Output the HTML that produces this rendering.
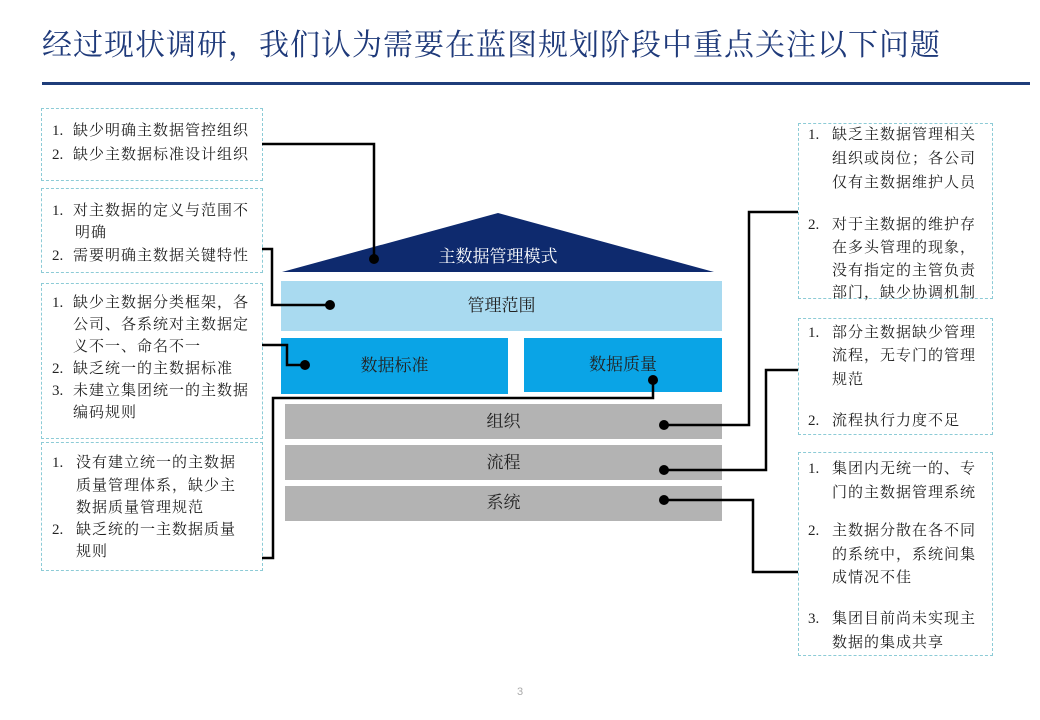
<!DOCTYPE html>
<html><head><meta charset="utf-8"><style>
body{margin:0;background:#fff}
#c{position:relative;width:1040px;height:720px;overflow:hidden;font-family:"Liberation Sans","Noto Sans CJK SC",sans-serif;background:#fff}
.t{position:absolute;font-size:15px;line-height:20px;letter-spacing:1px;color:#222;white-space:nowrap;font-family:"Liberation Serif","Noto Serif CJK SC",serif}
.n{position:absolute;font-size:15px;line-height:20px;color:#222;font-family:"Liberation Serif","Noto Serif CJK SC",serif}
.box{position:absolute;border:1px dashed #8ccbd6;box-sizing:border-box}
.lab{position:absolute;font-size:17px;line-height:20px;color:#222;text-align:center;font-family:"Liberation Serif","Noto Serif CJK SC",serif}
</style></head><body><div id="c">
<div style="position:absolute;left:42px;top:26px;font-size:30px;line-height:40px;color:#1f3a7a;letter-spacing:1px;white-space:nowrap;font-family:'Liberation Serif','Noto Serif CJK SC',serif">经过现状调研，我们认为需要在蓝图规划阶段中重点关注以下问题</div>
<div style="position:absolute;left:42px;top:82px;width:988px;height:3px;background:#1f3d7a"></div>

<div class="box" style="left:41px;top:108px;width:222px;height:73px"></div>
<div class="box" style="left:41px;top:188px;width:222px;height:85px"></div>
<div class="box" style="left:41px;top:283px;width:222px;height:156px"></div>
<div class="box" style="left:41px;top:442px;width:222px;height:129px"></div>
<div class="box" style="left:798px;top:123px;width:195px;height:176px"></div>
<div class="box" style="left:798px;top:318px;width:195px;height:117px"></div>
<div class="box" style="left:798px;top:452px;width:195px;height:204px"></div>

<svg width="1040" height="720" style="position:absolute;left:0;top:0">
<polygon points="282,272 498,213 714,272" fill="#0e2a6e"/>
<rect x="281" y="281" width="441" height="50" fill="#a9daf0"/>
<rect x="281" y="338" width="227" height="56" fill="#0aa4e6"/>
<rect x="524" y="338" width="198" height="54" fill="#0aa4e6"/>
<rect x="285" y="404" width="437" height="35" fill="#b3b3b3"/>
<rect x="285" y="445" width="437" height="35" fill="#b3b3b3"/>
<rect x="285" y="486" width="437" height="35" fill="#b3b3b3"/>
<g fill="none" stroke="#000" stroke-width="2.5">
<polyline points="262,144 374,144 374,259"/>
<polyline points="262,249 272,249 272,305 330,305"/>
<polyline points="262,345 287,345 287,365 305,365"/>
<polyline points="653,380 653,398 273,398 273,558 262,558"/>
<polyline points="664,425 749,425 749,212 798,212"/>
<polyline points="664,470 766,470 766,370 798,370"/>
<polyline points="664,500 753,500 753,572 798,572"/>
</g>
<g fill="#000">
<circle cx="374" cy="259" r="5"/><circle cx="330" cy="305" r="5"/><circle cx="305" cy="365" r="5"/>
<circle cx="653" cy="380" r="5"/><circle cx="664" cy="425" r="5"/><circle cx="664" cy="470" r="5"/><circle cx="664" cy="500" r="5"/>
</g>
</svg>
<div class="lab" style="left:390px;top:247px;width:216px;color:#fff">主数据管理模式</div>
<div class="lab" style="left:281px;top:296px;width:441px">管理范围</div>
<div class="lab" style="left:281px;top:356px;width:227px">数据标准</div>
<div class="lab" style="left:524px;top:355px;width:198px">数据质量</div>
<div class="lab" style="left:285px;top:412px;width:437px">组织</div>
<div class="lab" style="left:285px;top:453px;width:437px">流程</div>
<div class="lab" style="left:285px;top:493px;width:437px">系统</div>

<div class="n" style="left:52px;top:121px">1.</div><div class="t" style="left:73px;top:121px">缺少明确主数据管控组织</div>
<div class="n" style="left:52px;top:145px">2.</div><div class="t" style="left:73px;top:145px">缺少主数据标准设计组织</div>

<div class="n" style="left:52px;top:201px">1.</div><div class="t" style="left:73px;top:201px">对主数据的定义与范围不</div>
<div class="t" style="left:75px;top:223px">明确</div>
<div class="n" style="left:52px;top:246px">2.</div><div class="t" style="left:73px;top:246px">需要明确主数据关键特性</div>

<div class="n" style="left:52px;top:293px">1.</div><div class="t" style="left:73px;top:293px">缺少主数据分类框架，各</div>
<div class="t" style="left:73px;top:315px">公司、各系统对主数据定</div>
<div class="t" style="left:73px;top:337px">义不一、命名不一</div>
<div class="n" style="left:52px;top:359px">2.</div><div class="t" style="left:73px;top:359px">缺乏统一的主数据标准</div>
<div class="n" style="left:52px;top:381px">3.</div><div class="t" style="left:73px;top:381px">未建立集团统一的主数据</div>
<div class="t" style="left:73px;top:403px">编码规则</div>

<div class="n" style="left:52px;top:453px">1.</div><div class="t" style="left:76px;top:453px">没有建立统一的主数据</div>
<div class="t" style="left:76px;top:476px">质量管理体系，缺少主</div>
<div class="t" style="left:76px;top:498px">数据质量管理规范</div>
<div class="n" style="left:52px;top:520px">2.</div><div class="t" style="left:76px;top:520px">缺乏统的一主数据质量</div>
<div class="t" style="left:76px;top:542px">规则</div>

<div class="n" style="left:808px;top:125px">1.</div><div class="t" style="left:832px;top:125px">缺乏主数据管理相关</div>
<div class="t" style="left:832px;top:149px">组织或岗位；各公司</div>
<div class="t" style="left:832px;top:173px">仅有主数据维护人员</div>
<div class="n" style="left:808px;top:215px">2.</div><div class="t" style="left:832px;top:215px">对于主数据的维护存</div>
<div class="t" style="left:832px;top:238px">在多头管理的现象，</div>
<div class="t" style="left:832px;top:261px">没有指定的主管负责</div>
<div class="t" style="left:832px;top:283px">部门，缺少协调机制</div>

<div class="n" style="left:808px;top:323px">1.</div><div class="t" style="left:832px;top:323px">部分主数据缺少管理</div>
<div class="t" style="left:832px;top:346px">流程，无专门的管理</div>
<div class="t" style="left:832px;top:370px">规范</div>
<div class="n" style="left:808px;top:411px">2.</div><div class="t" style="left:832px;top:411px">流程执行力度不足</div>

<div class="n" style="left:808px;top:459px">1.</div><div class="t" style="left:832px;top:459px">集团内无统一的、专</div>
<div class="t" style="left:832px;top:483px">门的主数据管理系统</div>
<div class="n" style="left:808px;top:521px">2.</div><div class="t" style="left:832px;top:521px">主数据分散在各不同</div>
<div class="t" style="left:832px;top:545px">的系统中，系统间集</div>
<div class="t" style="left:832px;top:568px">成情况不佳</div>
<div class="n" style="left:808px;top:609px">3.</div><div class="t" style="left:832px;top:609px">集团目前尚未实现主</div>
<div class="t" style="left:832px;top:633px">数据的集成共享</div>

<div style="position:absolute;left:512px;top:686px;width:16px;text-align:center;font-size:11px;color:#aaa">3</div>
</div></body></html>
